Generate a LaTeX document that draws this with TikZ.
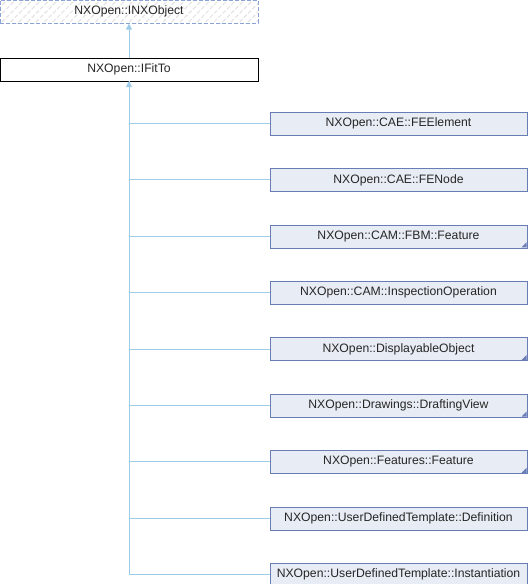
\documentclass[tikz,border=0pt]{standalone}
\usepackage{fontspec}
\setmainfont{Liberation Sans}
\usepackage{xcolor}
\usetikzlibrary{arrows.meta,positioning,patterns.meta}
\definecolor{boxfill}{RGB}{232,236,244}
\definecolor{boxline}{RGB}{104,124,182}
\definecolor{linkcol}{RGB}{158,204,232}
\definecolor{dashcol}{RGB}{140,162,212}

\begin{document}
\begin{tikzpicture}[
  x=1pt,y=-1pt,
  node distance=33pt,
  base/.style ={rectangle,minimum width=258pt,minimum height=23pt,inner sep=0pt,
                font=\fontsize{12.2}{14}\selectfont,text=black!85},
  ifc/.style  ={base,draw=dashcol,dash pattern=on 4pt off 2pt,
                pattern={Lines[angle=45,distance=6pt,line width=1.2pt]},
                pattern color=black!10},
  top/.style  ={base,draw=black,fill=white},
  cls/.style  ={base,minimum width=257pt,draw=boxline,fill=boxfill},
  more/.style ={cls,path picture={\fill[boxline]
                ([xshift=-0.5pt,yshift=0.5pt]path picture bounding box.south east)
                -- ++(-5pt,0pt) -- ++(5pt,5pt) -- cycle;}},
  ln/.style   ={color=linkcol,line width=1pt},
  ar/.style   ={ln,-{Triangle[length=6pt,width=6pt]}}
]
\useasboundingbox (0,0) rectangle (528,584);
\node[ifc] (inx) at (129,11.5) {NXOpen::INXObject};
\node[top,below=34pt of inx] (fit) {NXOpen::IFitTo};
\node[cls]  (c1) at (398.5,123.5) {NXOpen::CAE::FEElement};
\node[cls,  below=of c1] (c2) {NXOpen::CAE::FENode};
\node[more, below=of c2] (c3) {NXOpen::CAM::FBM::Feature};
\node[cls,  below=of c3] (c4) {NXOpen::CAM::InspectionOperation};
\node[more, below=of c4] (c5) {NXOpen::DisplayableObject};
\node[more, below=of c5] (c6) {NXOpen::Drawings::DraftingView};
\node[more, below=of c6] (c7) {NXOpen::Features::Feature};
\node[cls,  below=of c7] (c8) {NXOpen::UserDefinedTemplate::Definition};
\node[cls,  below=of c8] (c9) {NXOpen::UserDefinedTemplate::Instantiation};
\draw[ar] (fit) -- (inx);
\draw[ar] (c9.west) -| (fit.south);
\foreach \c in {c1,c2,c3,c4,c5,c6,c7,c8}
  \draw[ln] (fit.south) |- (\c.west);
\end{tikzpicture}
\end{document}
